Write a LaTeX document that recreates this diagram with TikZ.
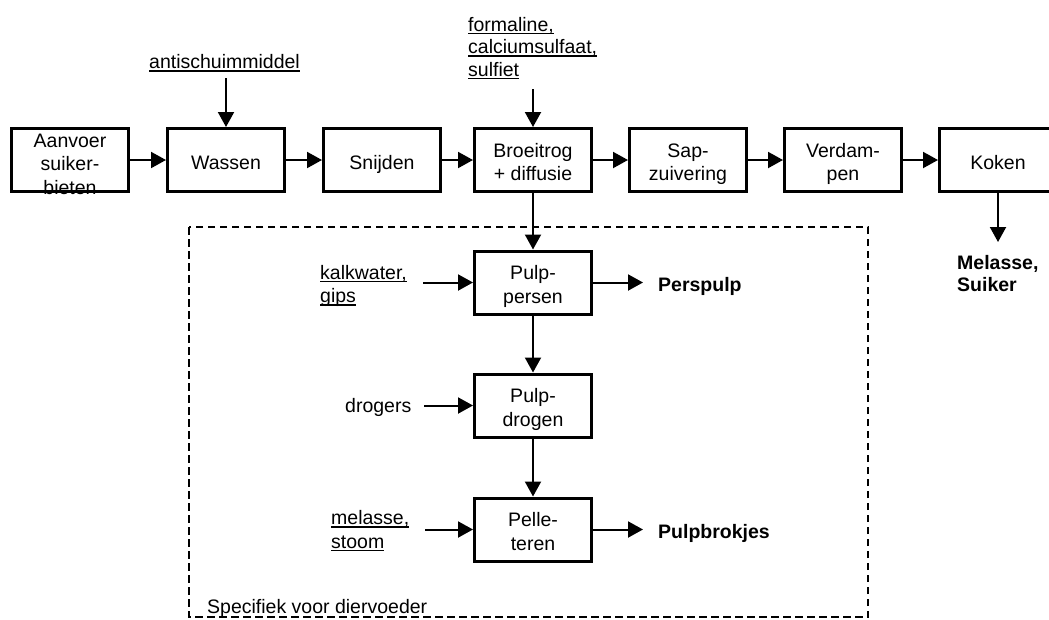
\documentclass[tikz,border=0pt]{standalone}
\usepackage{fontspec}
\setmainfont{Liberation Sans}
\usetikzlibrary{arrows.meta}
% underlined label text with a rule just under the baseline
\newcommand{\ulbl}[1]{\setbox0\hbox{#1}\rlap{\rule[-3pt]{\wd0}{1.5pt}}\box0}
% box text with a fixed top and bottom, so every box sets its lines alike
\newcommand{\stagetxt}[1]{\rule{0pt}{23pt}#1\rule[-5pt]{0pt}{5pt}}
\begin{document}
\begin{tikzpicture}[x=1pt,y=-1pt,
  every node/.style={font=\fontsize{19.5}{23.5}\selectfont, inner sep=0pt},
  stage/.style={draw, line width=3pt, minimum width=117pt, minimum height=63pt, align=center},
  flow/.style={line width=2pt, -{Triangle[length=15pt,width=16pt]}},
  feed/.style={align=left, anchor=west},
  product/.style={font=\fontsize{19.5}{22.5}\selectfont\bfseries, align=left},
  region/.style={line width=2.5pt, dash pattern=on 7.5pt off 4.5pt}
]
\useasboundingbox (0,0) rectangle (1049,619);
\clip (0,0) rectangle (1049,619);

% animal feed section
\draw[region] (189,227) rectangle (868,617);
\node[anchor=base west] (feedlbl) at (207,613) {Specifiek voor diervoeder};

% main process chain; the three lines of the first box run over its lower edge
\node[stage] (aanvoer) at (70,160)
  {\raisebox{-34pt}[0pt][0pt]{\begin{tabular}[b]{@{}c@{}}Aanvoer\\suiker-\\bieten\end{tabular}}};
\node[stage] (wassen)  at (226,160) {\stagetxt{Wassen}};
\node[stage] (snijden) at (382,160) {\stagetxt{Snijden}};
\node[stage] (broei)   at (533,160) {\stagetxt{Broeitrog\\+ diffusie}};
\node[stage] (sap)     at (688,160) {\stagetxt{Sap-\\zuivering}};
\node[stage] (verdamp) at (843,160) {\stagetxt{Verdam-\\pen}};
\node[stage] (koken)   at (998,160) {\stagetxt{Koken}};

% pulp processing
\node[stage] (persen) at (533,282.5) {\stagetxt{Pulp-\\persen}};
\node[stage] (drogen) at (533,405.5) {\stagetxt{Pulp-\\drogen}};
\node[stage] (pellet) at (533,529.5) {\stagetxt{Pelle-\\teren}};

% additives
\node[anchor=base west] (anti) at (149,68.5) {\ulbl{antischuimmiddel}};
\node[feed, font=\fontsize{19.5}{22.5}\selectfont] (form) at (468,48)
  {\ulbl{formaline,}\\\ulbl{calciumsulfaat,}\\\ulbl{sulfiet}};
\node[feed] (kalk) at (320,286) {\ulbl{kalkwater,}\\\ulbl{gips}};
\node[anchor=base west] (drogers) at (345,412) {drogers};
\node[feed] (melstoom) at (331,531) {\ulbl{melasse,}\\\ulbl{stoom}};

% products
\node[product, anchor=base west] (perspulp) at (658,291.5) {Perspulp};
\node[product, anchor=base west] (brokjes) at (658,538.5) {Pulpbrokjes};
\node[product, anchor=west] (suiker) at (957,273.3) {Melasse,\\Suiker};

% free ends of the connectors
\coordinate (antisrc) at (226,78);
\coordinate (formsrc) at (533,89);
\coordinate (kalksrc) at (423,282.5);
\coordinate (drogsrc) at (424,405.5);
\coordinate (melsrc)  at (425,529.5);
\coordinate (perspulpend) at (643,282.5);
\coordinate (brokjesend)  at (643,529.5);
\coordinate (suikerend)   at (998,242);

% connectors
\draw[flow] (aanvoer) -- (wassen);
\draw[flow] (wassen) -- (snijden);
\draw[flow] (snijden) -- (broei);
\draw[flow] (broei) -- (sap);
\draw[flow] (sap) -- (verdamp);
\draw[flow] (verdamp) -- (koken);
\draw[flow] (koken) -- (suikerend);
\draw[flow] (antisrc) -- (wassen);
\draw[flow] (formsrc) -- (broei);
\draw[flow] (broei) -- (persen);
\draw[flow] (persen) -- (drogen);
\draw[flow] (drogen) -- (pellet);
\draw[flow] (kalksrc) -- (persen);
\draw[flow] (drogsrc) -- (drogen);
\draw[flow] (melsrc) -- (pellet);
\draw[flow] (persen) -- (perspulpend);
\draw[flow] (pellet) -- (brokjesend);
\end{tikzpicture}
\end{document}
